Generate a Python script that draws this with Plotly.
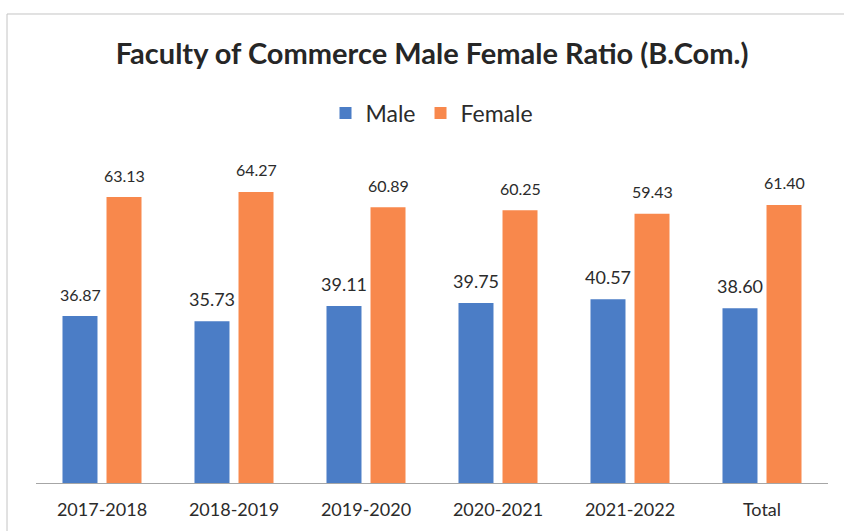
import plotly.graph_objects as go

# Academic years plus the overall total
categories = ["2017-2018", "2018-2019", "2019-2020", "2020-2021", "2021-2022", "Total"]
male = [36.87, 35.73, 39.11, 39.75, 40.57, 38.60]
female = [63.13, 64.27, 60.89, 60.25, 59.43, 61.40]

# label font sizes (the printed labels are not all the same size)
male_label_size = [16, 18, 18, 18, 18, 18]
female_label_size = [16, 16, 16, 16, 16, 16]

BLUE = "#4B7DC6"
ORANGE = "#F8884C"
TEXT = "#2b2b2b"
FONT = "Lato"

fig = go.Figure()
fig.add_trace(go.Bar(name="Male", x=categories, y=male, marker_color=BLUE,
                     marker_line_width=0))
fig.add_trace(go.Bar(name="Female", x=categories, y=female, marker_color=ORANGE,
                     marker_line_width=0))

# value labels above each bar, offset to the bar's slot in the group
annotations = []
for cat, m, f, ms, fs in zip(categories, male, female, male_label_size, female_label_size):
    annotations.append(dict(x=cat, y=m, text=f"{m:.2f}", showarrow=False,
                            xshift=-22, yshift=22, yanchor="middle",
                            font=dict(family=FONT, size=ms, color=TEXT)))
    annotations.append(dict(x=cat, y=f, text=f"{f:.2f}", showarrow=False,
                            xshift=22, yshift=22, yanchor="middle",
                            font=dict(family=FONT, size=fs, color=TEXT)))

# light frame around the chart area (top and left edges)
frame = dict(type="line", xref="paper", yref="paper",
             line=dict(color="#c4c4c4", width=1))
shapes = [
    dict(frame, x0=-0.0366, x1=1.03, y0=1.4795, y1=1.4795),
    dict(frame, x0=-0.0366, x1=-0.0366, y0=1.4795, y1=-0.16),
]

fig.update_layout(
    width=844, height=531,
    margin=dict(l=36, r=16, t=166, b=48),
    paper_bgcolor="white", plot_bgcolor="white",
    font=dict(family=FONT, color=TEXT),
    title=dict(text="<b>Faculty of Commerce Male Female Ratio (B.Com.)</b>",
               x=0.5, xref="paper", xanchor="center",
               y=1 - 54 / 531, yanchor="middle",
               font=dict(family=FONT, size=29, color="#262626")),
    legend=dict(orientation="h", x=0.5, xanchor="center", y=1.167, yanchor="middle",
                font=dict(family=FONT, size=23, color=TEXT), traceorder="normal",
                itemwidth=30),
    barmode="group", bargap=0.333, bargroupgap=0.205,
    xaxis=dict(showline=True, linecolor="#a6a6a6", linewidth=1, ticks="",
               ticklabelstandoff=10,
               tickfont=dict(family=FONT, size=18, color=TEXT), showgrid=False),
    yaxis=dict(range=[0, 70], visible=False, showgrid=False, zeroline=False),
    annotations=annotations,
    shapes=shapes,
    showlegend=True,
)

fig.write_html("out.html")
